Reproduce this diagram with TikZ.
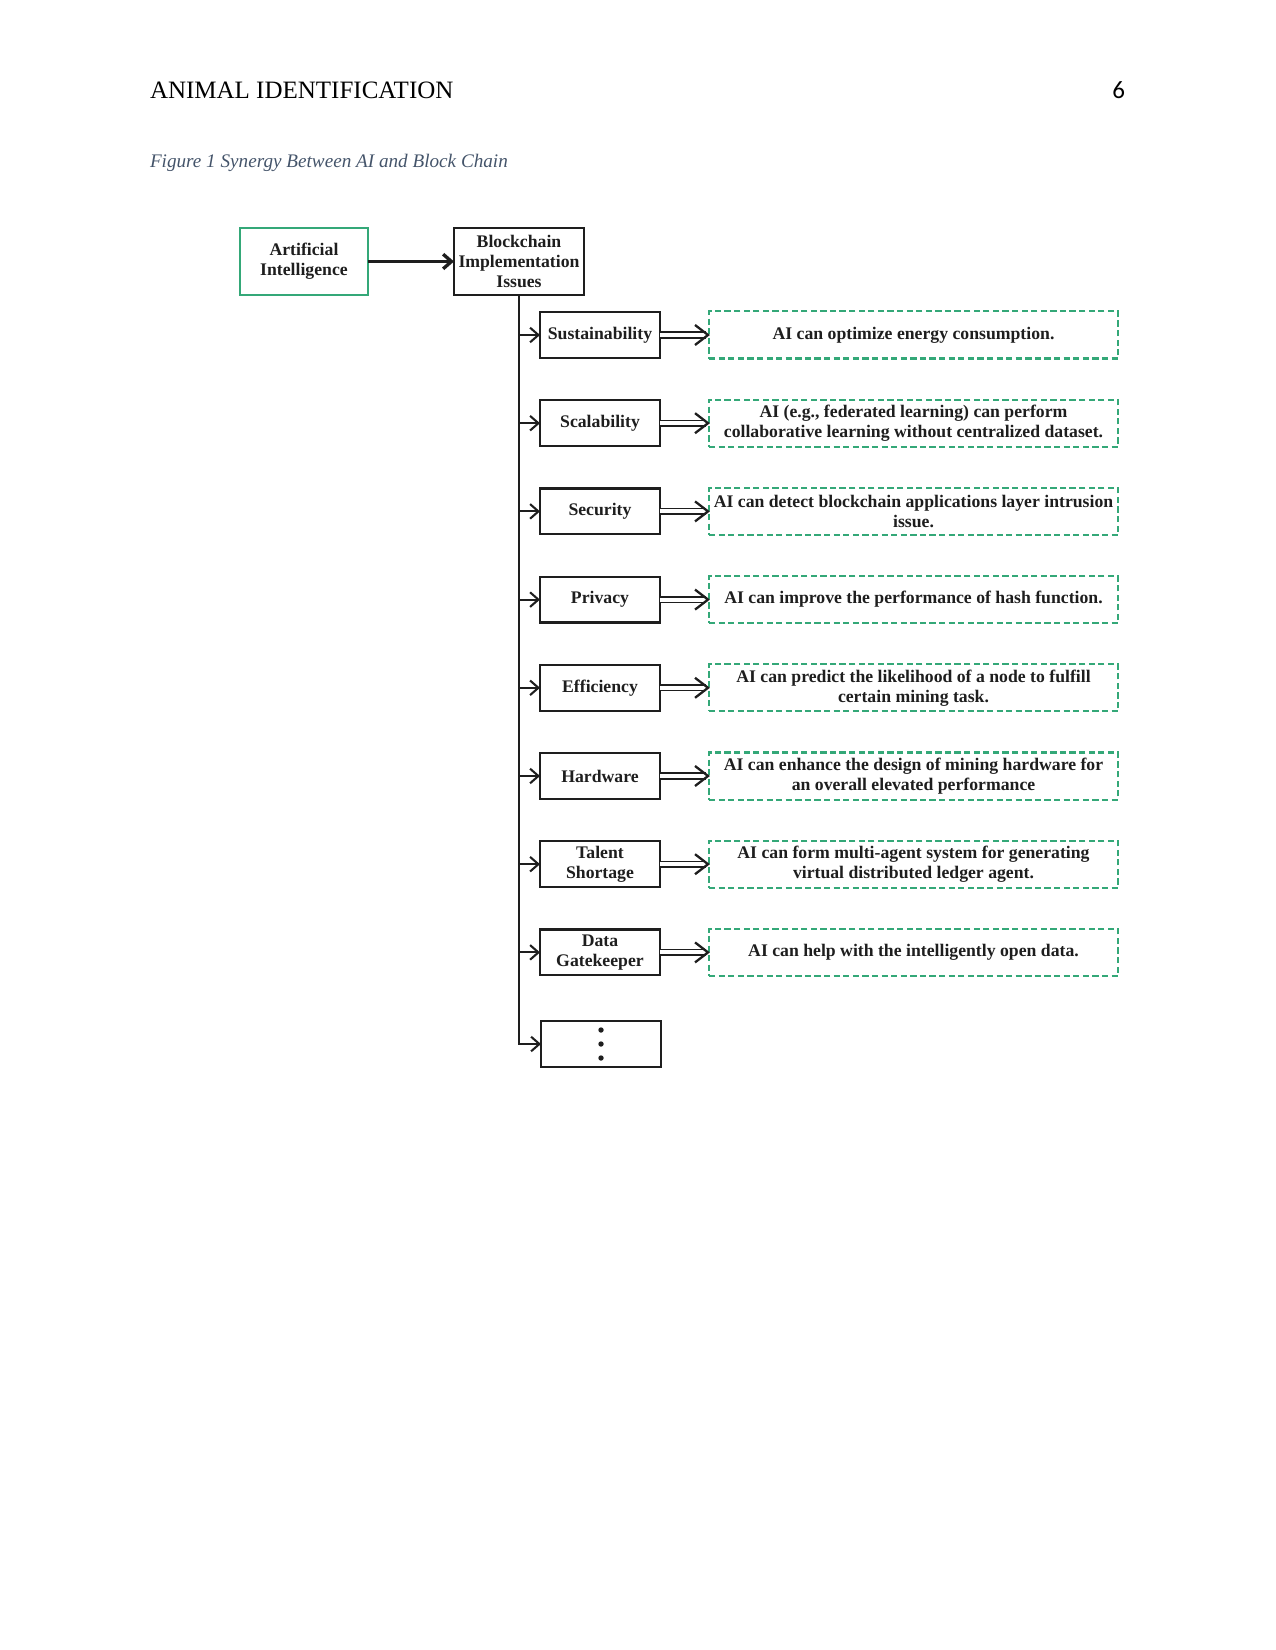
\documentclass[tikz,border=0pt]{standalone}
\usepackage{fontspec}
\setmainfont{Liberation Serif}
\newfontfamily\numfont{Carlito}
\usetikzlibrary{arrows.meta,calc}
\definecolor{aigreen}{RGB}{52,168,120}
\definecolor{capgray}{RGB}{68,84,106}
\definecolor{ink}{RGB}{30,30,30}
\begin{document}
\begin{tikzpicture}[x=0.48pt,y=-0.48pt,
  every node/.style={inner sep=0pt, outer sep=0pt},
  box/.style={draw=ink, line width=1.1pt, align=center, text=ink, font=\fontsize{8.5}{9.6}\selectfont\bfseries},
  issue/.style={box, minimum width=57.6pt, minimum height=22pt},
  aibox/.style={box, draw=aigreen, minimum width=61.4pt, minimum height=32.2pt},
  bcbox/.style={box, minimum width=62.4pt, minimum height=32.2pt},
  solution/.style={box, draw=aigreen, line width=1pt, dash pattern=on 3pt off 1.6pt, minimum width=196.3pt, minimum height=22.6pt},
  branch/.style={draw=ink, line width=1pt, -{Straight Barb[length=4pt,width=7pt]}},
  shaft/.style={draw=ink, double, double distance=1.9pt, line width=0.8pt},
  head/.style={draw=ink, line width=1.1pt, line join=miter},
]
\useasboundingbox (0,0) rectangle (1275,1650);
% header
\node[anchor=base west, font=\fontsize{12}{14}\selectfont] (hdr) at (150,99) {ANIMAL IDENTIFICATION};
\node[anchor=base east, font=\numfont\fontsize{12}{14}\selectfont] (pg) at (1125,99) {6};
\node[anchor=base west, text=capgray, font=\fontsize{9.2}{11}\selectfont\itshape] (cap) at (150,168) {Figure 1 Synergy Between AI and Block Chain};
% top
\node[aibox] (ai) at (304,261.5) {Artificial\\Intelligence};
\node[bcbox] (bc) at (519,261.5) {Blockchain\\Implementation\\Issues};
\draw[draw=ink, line width=1.6pt, -{Straight Barb[length=4pt,width=7pt]}] (ai) -- (bc);
% issues
\node[issue] (r1) at (600,335) {Sustainability};
\node[issue] (r2) at (600,423.2) {Scalability};
\node[issue] (r3) at (600,511.4) {Security};
\node[issue] (r4) at (600,599.6) {Privacy};
\node[issue] (r5) at (600,687.8) {Efficiency};
\node[issue] (r6) at (600,776) {Hardware};
\node[issue] (r7) at (600,864.2) {Talent\\Shortage};
\node[issue] (r8) at (600,952.4) {Data\\Gatekeeper};
\node[issue] (r9) at (601,1044) {};
\fill[ink] (r9.center) circle (1.3pt);
\fill[ink] ($(r9.center)+(0,-14)$) circle (1.3pt);
\fill[ink] ($(r9.center)+(0,14)$) circle (1.3pt);
% solutions
\node[solution] (s1) at (913.5,335) {AI can optimize energy consumption.};
\node[solution] (s2) at (913.5,423.2) {AI (e.g., federated learning) can perform\\collaborative learning without centralized dataset.};
\node[solution] (s3) at (913.5,511.4) {AI can detect blockchain applications layer intrusion\\issue.};
\node[solution] (s4) at (913.5,599.6) {AI can improve the performance of hash function.};
\node[solution] (s5) at (913.5,687.8) {AI can predict the likelihood of a node to fulfill\\certain mining task.};
\node[solution] (s6) at (913.5,776) {AI can enhance the design of mining hardware for\\an overall elevated performance};
\node[solution] (s7) at (913.5,864.2) {AI can form multi-agent system for generating\\virtual distributed ledger agent.};
\node[solution] (s8) at (913.5,952.4) {AI can help with the intelligently open data.};
% trunk and branches
\draw[branch] (bc.south) |- (r9.west);
\foreach \i in {1,...,8} {
  \draw[branch] (bc.south |- r\i.west) -- (r\i.west);
  \draw[shaft] (r\i.east) -- ($(s\i.west)+(-3,0)$);
  \draw[head] ($(s\i.west)+(-14,-10)$) -- ($(s\i.west)+(-1,0)$) -- ($(s\i.west)+(-14,10)$);
}
\end{tikzpicture}
\end{document}
